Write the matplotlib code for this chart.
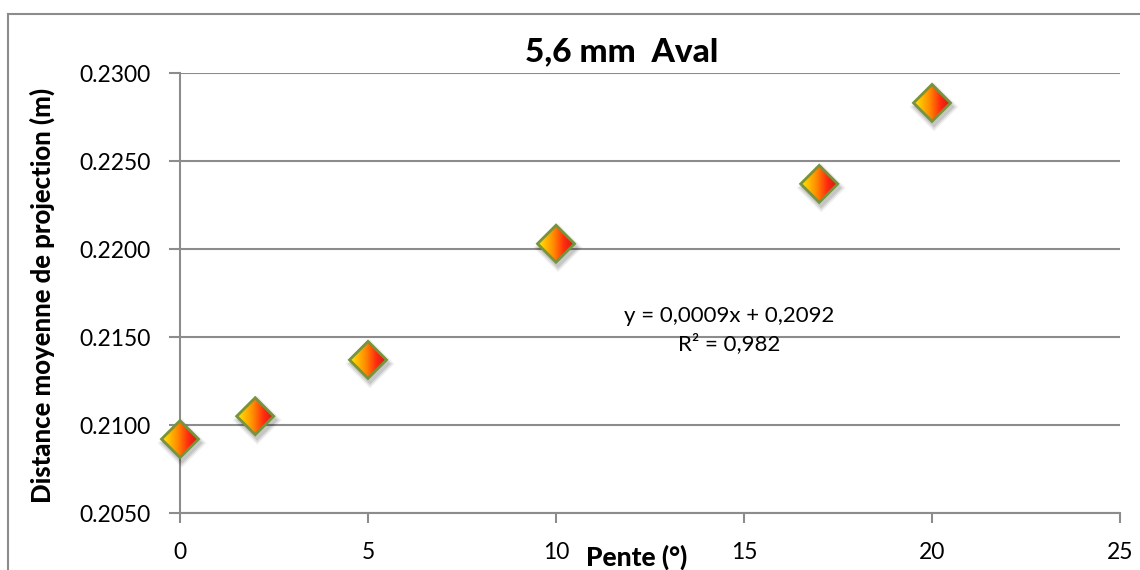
import numpy as np
import matplotlib
matplotlib.use("Agg")
import matplotlib.pyplot as plt
from matplotlib.patches import Polygon
from matplotlib.lines import Line2D
from matplotlib.colors import LinearSegmentedColormap

# Data: slope (degrees) vs mean projection distance (m)
pente = [0, 2, 5, 10, 17, 20]
distance = [0.2092, 0.2105, 0.2137, 0.2203, 0.2237, 0.2283]

title = "5,6 mm  Aval"
xlabel = "Pente (°)"
ylabel = "Distance moyenne de projection (m)"
equation = "y = 0,0009x + 0,2092"
r2_text = "R² = 0,982"
xticks = [0, 5, 10, 15, 20, 25]
yticks = [0.2050, 0.2100, 0.2150, 0.2200, 0.2250, 0.2300]

plt.rcParams['font.family'] = ['Lato', 'DejaVu Sans']

W, H = 1140, 570
fig = plt.figure(figsize=(W / 100, H / 100), dpi=100)
ax = fig.add_axes([180 / W, 1 - 513 / H, (1120 - 180) / W, (513 - 73) / H])

grey = "#8c8c8c"
ax.set_xlim(0, 25)
ax.set_ylim(0.2050, 0.2300)
ax.set_xticks(xticks)
ax.set_yticks(yticks)
ax.set_xticklabels([str(t) for t in xticks])
ax.set_yticklabels([f"{t:.4f}" for t in yticks])
ax.tick_params(axis='both', direction='out', colors=grey, labelcolor='black',
               labelsize=16.5, width=1.5)
ax.tick_params(axis='x', length=7, pad=14)
ax.tick_params(axis='y', length=8, pad=13)
for s in ['top', 'right']:
    ax.spines[s].set_visible(False)
for s in ['left', 'bottom']:
    ax.spines[s].set_color(grey)
    ax.spines[s].set_linewidth(1.5)
ax.yaxis.grid(True, color=grey, linewidth=1.5)
ax.set_axisbelow(True)

# Chart-area frame (top and left edges)
fig.add_artist(Line2D([8 / W, 1.0], [1 - 14 / H, 1 - 14 / H], transform=fig.transFigure,
                      color=grey, linewidth=1.5))
fig.add_artist(Line2D([8 / W, 8 / W], [0, 1 - 14 / H], transform=fig.transFigure,
                      color=grey, linewidth=1.5))

# Gradient diamond markers
cmap = LinearSegmentedColormap.from_list(
    "fire", [(0.0, "#ffe600"), (0.4, "#ff9000"), (0.72, "#ff2a10"), (1.0, "#d01818")])
grad = np.linspace(0, 1, 64)[None, :].repeat(64, axis=0)
half = 18.5
inv = ax.transData.inverted()
for x, y in zip(pente, distance):
    cx, cy = ax.transData.transform((x, y))
    # soft shadow
    for k, a in zip([6, 4, 2], [0.06, 0.08, 0.1]):
        sv = [(cx - half - k + 2, cy - 4), (cx + 2, cy + half + k - 4),
              (cx + half + k + 2, cy - 4), (cx + 2, cy - half - k - 4)]
        ax.add_patch(Polygon(inv.transform(sv), closed=True, facecolor='black',
                             edgecolor='none', alpha=a, zorder=3, clip_on=False))
    dv = [(cx - half, cy), (cx, cy + half), (cx + half, cy), (cx, cy - half)]
    verts = inv.transform(dv)
    poly = Polygon(verts, closed=True, facecolor='none', edgecolor="#77933c",
                   linewidth=2.0, zorder=5, clip_on=False)
    ax.add_patch(poly)
    x0, x1 = verts[0][0], verts[2][0]
    y0, y1 = verts[3][1], verts[1][1]
    im = ax.imshow(grad, cmap=cmap, extent=[x0, x1, y0, y1], aspect='auto',
                   interpolation='bilinear', zorder=4)
    im.set_clip_box(fig.bbox)
    im.set_clip_path(poly)

ax.set_xlim(0, 25)
ax.set_ylim(0.2050, 0.2300)

fig.text(622 / W, 1 - 52 / H, title, ha='center', va='center', fontsize=24,
         fontweight='black')
fig.text(42 / W, 1 - 295 / H, ylabel, ha='center', va='center', rotation=90,
         fontsize=18.5, fontweight='black')
fig.text(637 / W, 1 - 557 / H, xlabel, ha='center', va='center', fontsize=19,
         fontweight='black')
ax.text(14.6, 0.2162, equation, ha='center', va='center', fontsize=16)
ax.text(14.6, 0.2146, r2_text, ha='center', va='center', fontsize=16)

fig.savefig("out.png", dpi=100)
